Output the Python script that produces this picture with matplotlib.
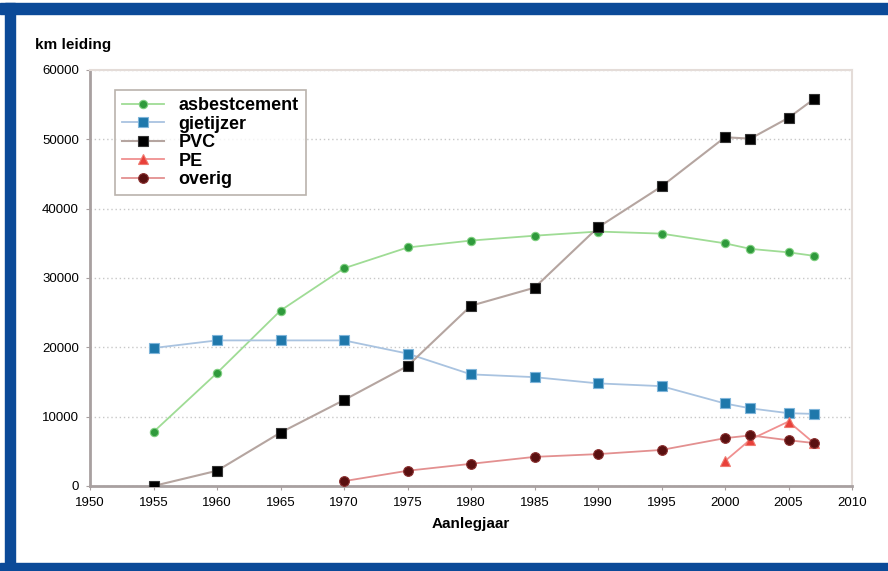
import numpy as np
import matplotlib as mpl
from matplotlib import pyplot as plt
from matplotlib.patches import Rectangle

plt.rcParams["font.family"] = ["Liberation Sans", "DejaVu Sans"]
plt.rcParams.update({"font.size": 9.5})

# data
years = [1955, 1960, 1965, 1970, 1975, 1980, 1985, 1990, 1995, 2000, 2002, 2005, 2007]
asbestcement = [7800, 16300, 25300, 31400, 34400, 35400, 36100, 36700, 36400, 35000, 34200, 33700, 33200]
gietijzer = [19900, 21000, 21000, 21000, 19100, 16100, 15700, 14800, 14400, 11900, 11200, 10500, 10400]
pvc = [0, 2200, 7700, 12400, 17300, 26000, 28600, 37300, 43200, 50300, 50100, 53100, 55800]
pe_years = [2000, 2002, 2005, 2007]
pe = [3600, 6700, 9300, 6200]
overig_years = [1970, 1975, 1980, 1985, 1990, 1995, 2000, 2002, 2005, 2007]
overig = [700, 2200, 3200, 4200, 4600, 5200, 6900, 7300, 6600, 6200]

xticks = list(range(1950, 2011, 5))
yticks = list(range(0, 60001, 10000))

W, H = 888, 571
fig = plt.figure(figsize=(W / 100, H / 100), dpi=100)
fig.patch.set_facecolor("white")

# blue frame (top, left, bottom)
blue = "#0b4a98"
fig.patches.append(Rectangle((0, 1 - 14 / H), 1, 11 / H, transform=fig.transFigure, color=blue, zorder=0))
fig.patches.append(Rectangle((5 / W, 0), 10 / W, 1 - 3 / H, transform=fig.transFigure, color=blue, zorder=0))
fig.patches.append(Rectangle((0, 0), 1, 8 / H, transform=fig.transFigure, color=blue, zorder=0))

ax = fig.add_axes([90 / W, 1 - 486 / H, (852 - 90) / W, (486 - 70) / H])
ax.set_facecolor("white")

ax.plot(years, asbestcement, color="#9fdc95", lw=1.3, marker="o", ms=6,
        mfc="#2f9a3c", mec="#7fcf80", mew=0.8, label="asbestcement", zorder=3)
ax.plot(years, gietijzer, color="#a9c3e0", lw=1.3, marker="s", ms=7,
        mfc="#1f78ab", mec="#7fb5da", mew=0.8, label="gietijzer", zorder=3)
ax.plot(years, pvc, color="#b5a5a0", lw=1.5, marker="s", ms=7,
        mfc="black", mec="#333333", mew=0.8, label="PVC", zorder=4)
ax.plot(pe_years, pe, color="#f09090", lw=1.3, marker="^", ms=7,
        mfc="#e8403a", mec="#f07a70", mew=0.8, label="PE", zorder=3)
ax.plot(overig_years, overig, color="#e39090", lw=1.3, marker="o", ms=7,
        mfc="#5a1010", mec="#8a3030", mew=0.8, label="overig", zorder=4)

ax.set_xlim(1950, 2010)
ax.set_ylim(0, 60000)
ax.set_xticks(xticks)
ax.set_yticks(yticks)
ax.tick_params(axis="both", direction="out", length=3, color="#a8a0a0", labelsize=9.5, pad=5)
ax.yaxis.grid(True, linestyle=(0, (1, 2)), color="#c8c8c8", lw=1)

for side in ["left", "bottom"]:
    ax.spines[side].set_color("#a8a0a0")
    ax.spines[side].set_linewidth(2)
for side in ["top", "right"]:
    ax.spines[side].set_color("#e4dcd8")
    ax.spines[side].set_linewidth(1.5)

ax.set_xlabel("Aanlegjaar", fontsize=11, fontweight="bold", labelpad=6)
fig.text(35 / W, 1 - 45 / H, "km leiding", fontsize=11, fontweight="bold", va="center", ha="left")

leg = ax.legend(loc="upper left", bbox_to_anchor=(0.033, 0.952), frameon=True, fancybox=False,
                edgecolor="#a8a098", handlelength=2.3, handletextpad=0.8, labelspacing=0.08,
                borderpad=0.4, borderaxespad=0, prop={"weight": "bold", "size": 13})
leg.get_frame().set_linewidth(1.2)

fig.savefig("out.png", dpi=100)
